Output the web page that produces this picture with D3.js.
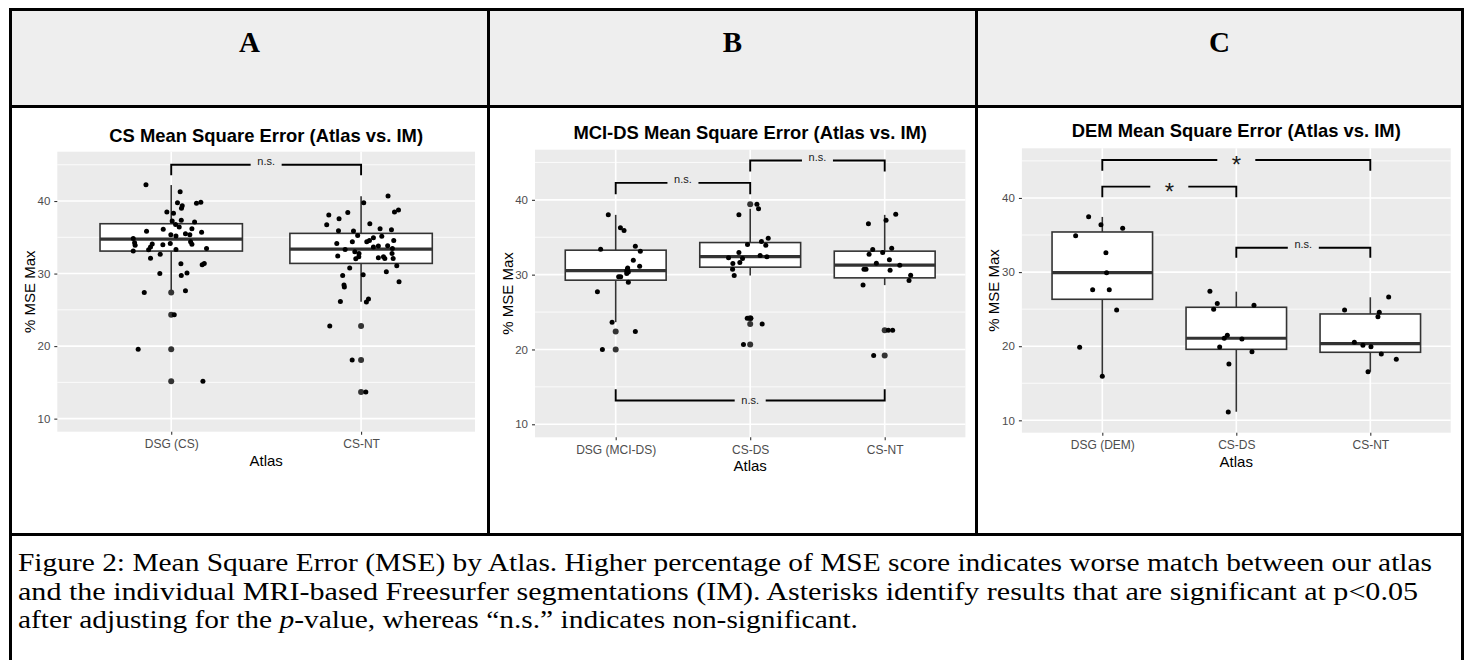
<!DOCTYPE html>
<html>
<head>
<meta charset="utf-8">
<script src="https://cdn.jsdelivr.net/npm/d3@7"></script>
<style>
  body { margin: 0; background: #fff; }
</style>
</head>
<body>
<div id="chart"></div>
<script>
// ---- values ----
const panelLetters = ["A", "B", "C"];
const plotTitles = [
  "CS Mean Square Error (Atlas vs. IM)",
  "MCI-DS Mean Square Error (Atlas vs. IM)",
  "DEM Mean Square Error (Atlas vs. IM)"
];
const yTicks = [10, 20, 30, 40];
const yDomains = [[8.2, 46.8], [8.26, 46.7], [8.33, 46.7]];

// boxes: [lower whisker, Q1, median, Q3, upper whisker]
// points: [jitter offset in category units, value]
// brackets: [from, to, bar value, tip value, label]
const csAtlases = ["DSG (CS)", "CS-NT"];
const csBoxes = [[27.6, 33.1, 34.76, 36.87, 42.2], [26.1, 31.4, 33.38, 35.54, 40.65]];
const csOutliers = [[27.4, 24.32, 19.55, 15.17], [22.76, 18.07, 13.66]];
const csPoints = [
  [[-0.133, 42.25], [0.047, 41.28], [0.033, 39.77], [0.058, 39.35], [0.054, 38.99], [-0.023, 38.48],
   [0.012, 38.3], [0.133, 39.68], [0.156, 39.82], [0.053, 37.34], [0.005, 37.24], [0.123, 37.1],
   [0.023, 36.78], [0.042, 36.41], [-0.042, 36.1], [0.109, 36.18], [-0.13, 35.82], [0.16, 35.68],
   [-0.002, 35.35], [0.025, 35.17], [0.075, 35.49], [0.098, 35.35], [-0.2, 34.85], [-0.193, 34.25],
   [-0.19, 33.89], [-0.2, 33.1], [-0.1, 34.07], [-0.109, 33.66], [-0.119, 33.28], [-0.044, 33.97],
   [-0.005, 34.16], [0.102, 34.39], [0.109, 34.03], [0.025, 33.33], [0.186, 33.47], [-0.109, 32.1],
   [-0.058, 32.65], [0.051, 31.35], [0.163, 31.22], [0.174, 31.4], [-0.06, 30.0], [0.083, 30.07],
   [0.053, 29.75], [-0.142, 27.4], [0.075, 27.63], [0.016, 24.32], [-0.174, 19.55], [0.167, 15.17]],
  [[0.142, 40.69], [0.014, 39.77], [0.197, 38.76], [0.176, 38.48], [-0.17, 38.07], [-0.07, 38.43],
   [-0.116, 37.56], [-0.181, 36.73], [0.046, 36.87], [-0.119, 35.91], [-0.04, 35.86], [0.1, 36.18],
   [0.16, 36.04], [-0.018, 35.26], [0.065, 34.94], [0.109, 35.13], [0.044, 34.57], [0.03, 34.39],
   [-0.046, 34.39], [-0.128, 34.16], [0.172, 34.57], [-0.084, 33.33], [-0.033, 33.01], [-0.011, 32.78],
   [-0.012, 32.32], [-0.123, 32.41], [0.091, 32.18], [0.118, 32.32], [0.125, 32.09], [0.163, 32.78],
   [0.14, 33.84], [0.165, 33.47], [0.169, 32.09], [0.188, 31.08], [0.065, 33.66], [0.091, 33.79],
   [-0.028, 32.04], [-0.06, 30.76], [0.133, 30.25], [0.011, 29.84], [-0.097, 29.75], [0.2, 28.87],
   [-0.09, 28.41], [-0.088, 28.14], [-0.109, 26.16], [0.039, 26.48], [0.028, 26.07], [-0.165, 22.76],
   [-0.047, 18.07], [0.025, 13.66]]
];
const csBrackets = [[0, 1, 45.0, 43.55, "n.s."]];

const mciAtlases = ["DSG (MCI-DS)", "CS-DS", "CS-NT"];
const mciBoxes = [[23.65, 29.26, 30.55, 33.27, 37.99], [29.9, 31.0, 32.42, 34.29, 38.8], [28.6, 29.57, 31.27, 33.14, 37.99]];
const mciOutliers = [[22.39, 19.99], [39.42, 24.18, 23.42, 20.66], [22.58, 19.19]];
const mciPoints = [
  [[-0.055, 37.99], [0.035, 36.26], [0.062, 35.9], [-0.112, 33.4], [0.146, 33.81], [0.183, 33.14],
   [0.131, 31.94], [0.178, 31.13], [0.089, 30.9], [0.087, 30.73], [0.082, 30.5], [0.094, 30.37],
   [0.082, 30.15], [0.022, 29.71], [0.037, 29.71], [0.094, 29.0], [-0.136, 27.7], [-0.027, 23.65],
   [0.146, 22.39], [-0.099, 19.99]],
  [[0.05, 39.42], [0.062, 38.8], [-0.084, 37.99], [-0.02, 34.03], [0.084, 34.43], [0.134, 34.87],
   [0.116, 33.94], [-0.084, 32.96], [-0.161, 32.25], [-0.057, 32.15], [0.074, 32.55], [0.124, 32.38],
   [-0.129, 31.49], [-0.077, 31.62], [-0.131, 30.73], [-0.119, 29.88], [-0.022, 24.18], [0.005, 24.18],
   [0.089, 23.42], [-0.05, 20.66]],
  [[0.082, 38.08], [0.01, 37.28], [-0.121, 36.79], [-0.089, 33.36], [-0.116, 32.74], [-0.015, 32.96],
   [0.052, 33.53], [0.035, 31.98], [-0.062, 31.53], [0.112, 31.27], [-0.154, 30.73], [-0.139, 30.73],
   [0.04, 30.6], [0.193, 29.93], [0.181, 29.21], [-0.161, 28.6], [0.027, 22.58], [0.059, 22.58],
   [-0.082, 19.19]]
];
const mciBrackets = [[0, 1, 42.27, 40.76, "n.s."], [1, 2, 45.26, 43.79, "n.s."], [0, 2, 13.17, 14.69, "n.s."]];

const demAtlases = ["DSG (DEM)", "CS-DS", "CS-NT"];
const demBoxes = [[15.94, 26.33, 29.92, 35.41, 37.44], [11.16, 19.58, 21.07, 25.25, 27.36], [16.56, 19.18, 20.34, 24.35, 26.6]];
const demOutliers = [[], [], []];
const demPoints = [
  [[-0.102, 37.48], [-0.01, 36.4], [0.152, 35.91], [-0.199, 34.91], [0.027, 32.62], [0.032, 29.92],
   [-0.072, 27.63], [0.052, 27.63], [0.107, 24.9], [-0.169, 19.85], [0.0, 15.94]],
  [[-0.197, 27.41], [-0.142, 25.77], [-0.169, 24.98], [0.132, 25.52], [-0.067, 21.47], [-0.09, 21.07],
   [0.042, 20.97], [-0.124, 19.89], [0.117, 19.26], [-0.055, 17.6], [-0.06, 11.12]],
  [[0.137, 26.64], [-0.192, 24.89], [0.067, 24.57], [0.057, 23.98], [-0.119, 20.52], [-0.055, 20.12],
   [0.005, 19.94], [0.082, 18.95], [0.194, 18.23], [-0.017, 16.56]]
];
const demBrackets = [[0, 2, 45.13, 43.68, "*"], [0, 1, 41.53, 40.1, "*"], [1, 2, 33.29, 31.94, "n.s."]];

const captionLines = [
  [["Figure 2: Mean Square Error (MSE) by Atlas. Higher percentage of MSE score indicates worse match between our atlas", false]],
  [["and the individual MRI-based Freesurfer segmentations (IM). Asterisks identify results that are significant at p<0.05", false]],
  [["after adjusting for the ", false], ["p", true], ["-value, whereas \u201cn.s.\u201d indicates non-significant.", false]]
];

// ---- layout ----
const W = 1465, H = 660;
const SANS = "'Liberation Sans', Arial, sans-serif";
const SERIF = "'Liberation Serif', 'Times New Roman', serif";
const panelBg = "#ebebeb";
const captionWidths = [1414, 1400, 840]; // the figure's caption is set wide

const panels = [
  { left: 57.3, right: 475, top: 151.7, bottom: 431.7, titleY: 142,
    cats: csAtlases, boxes: csBoxes, outliers: csOutliers, points: csPoints, brackets: csBrackets },
  { left: 535, right: 965.4, top: 149.7, bottom: 437.3, titleY: 139,
    cats: mciAtlases, boxes: mciBoxes, outliers: mciOutliers, points: mciPoints, brackets: mciBrackets },
  { left: 1021.9, right: 1450.7, top: 148.3, bottom: 432.7, titleY: 136.5,
    cats: demAtlases, boxes: demBoxes, outliers: demOutliers, points: demPoints, brackets: demBrackets }
];

const svg = d3.select("#chart").append("svg")
  .attr("width", W).attr("height", H)
  .style("display", "block");

// table frame
svg.append("rect").attr("x", 12).attr("y", 11).attr("width", 1449).attr("height", 94).attr("fill", "#eeeeee");

const frame = svg.append("g").attr("stroke", "#000").attr("stroke-width", 3);
frame.append("line").attr("x1", 9).attr("x2", 1464).attr("y1", 9.5).attr("y2", 9.5);
frame.append("line").attr("x1", 9).attr("x2", 1464).attr("y1", 106.5).attr("y2", 106.5);
frame.append("line").attr("x1", 9).attr("x2", 1464).attr("y1", 534.5).attr("y2", 534.5);
frame.append("line").attr("x1", 10.5).attr("x2", 10.5).attr("y1", 8).attr("y2", H);
frame.append("line").attr("x1", 1462.5).attr("x2", 1462.5).attr("y1", 8).attr("y2", H);
frame.append("line").attr("x1", 488.5).attr("x2", 488.5).attr("y1", 8).attr("y2", 536);
frame.append("line").attr("x1", 976.5).attr("x2", 976.5).attr("y1", 8).attr("y2", 536);

const colCenters = [249.5, 732.5, 1219.5];
svg.selectAll(".letter")
  .data(panelLetters)
  .enter()
  .append("text")
  .attr("x", (d, i) => colCenters[i])
  .attr("y", 52)
  .attr("text-anchor", "middle")
  .style("font", `bold 29px ${SERIF}`)
  .text(d => d);

// caption
const cap = svg.append("g");
captionLines.forEach((parts, i) => {
  const t = cap.append("text")
    .attr("x", 18)
    .attr("y", 571 + i * 28.7)
    .attr("textLength", captionWidths[i])
    .attr("lengthAdjust", "spacingAndGlyphs")
    .style("font", `25px ${SERIF}`)
    .attr("fill", "#000");
  parts.forEach(([s, it]) => {
    t.append("tspan").style("font-style", it ? "italic" : "normal").text(s);
  });
});

function drawPanel(p, idx) {
  const g = svg.append("g");
  const x = d3.scalePoint().domain(p.cats).range([p.left, p.right]).padding(0.6);
  const y = d3.scaleLinear().domain(yDomains[idx]).range([p.bottom, p.top]);
  const step = x.step();
  const dom = yDomains[idx];

  g.append("rect")
    .attr("x", p.left).attr("y", p.top)
    .attr("width", p.right - p.left).attr("height", p.bottom - p.top)
    .attr("fill", panelBg);

  // grid
  const minor = yTicks.map(t => t + 5).filter(v => v > dom[0] && v < dom[1]);
  g.selectAll(".minor").data(minor).enter().append("line")
    .attr("x1", p.left).attr("x2", p.right)
    .attr("y1", d => y(d)).attr("y2", d => y(d))
    .attr("stroke", "#fff").attr("stroke-width", 0.8);
  g.selectAll(".major").data(yTicks).enter().append("line")
    .attr("x1", p.left).attr("x2", p.right)
    .attr("y1", d => y(d)).attr("y2", d => y(d))
    .attr("stroke", "#fff").attr("stroke-width", 1.6);
  g.selectAll(".vgrid").data(p.cats).enter().append("line")
    .attr("x1", d => x(d)).attr("x2", d => x(d))
    .attr("y1", p.top).attr("y2", p.bottom)
    .attr("stroke", "#fff").attr("stroke-width", 1.6);

  // axes
  const ya = g.append("g")
    .attr("transform", `translate(${p.left},0)`)
    .call(d3.axisLeft(y).tickValues(yTicks).tickSize(3).tickPadding(4));
  ya.select(".domain").remove();
  ya.selectAll("line").attr("stroke", "#333").attr("stroke-width", 1.1);
  ya.selectAll("text").attr("fill", "#4d4d4d").style("font", `11.5px ${SANS}`);

  const xa = g.append("g")
    .attr("transform", `translate(0,${p.bottom})`)
    .call(d3.axisBottom(x).tickSize(3).tickPadding(5));
  xa.select(".domain").remove();
  xa.selectAll("line").attr("stroke", "#333").attr("stroke-width", 1.1);
  xa.selectAll("text").attr("fill", "#4d4d4d").style("font", `12px ${SANS}`);

  g.append("text")
    .attr("x", (p.left + p.right) / 2).attr("y", p.bottom + 34)
    .attr("text-anchor", "middle")
    .style("font", `15px ${SANS}`)
    .text("Atlas");
  g.append("text")
    .attr("transform", `translate(${p.left - 22.5},${(p.top + p.bottom) / 2}) rotate(-90)`)
    .attr("text-anchor", "middle")
    .style("font", `15px ${SANS}`)
    .text("% MSE Max");
  g.append("text")
    .attr("x", (p.left + p.right) / 2).attr("y", p.titleY)
    .attr("text-anchor", "middle")
    .style("font", `bold 18.4px ${SANS}`)
    .text(plotTitles[idx]);

  // boxplots
  const bw = 0.75 * step;
  p.cats.forEach((c, i) => {
    const [lo, q1, med, q3, hi] = p.boxes[i];
    const cx = x(c);
    g.append("line").attr("x1", cx).attr("x2", cx).attr("y1", y(lo)).attr("y2", y(q1))
      .attr("stroke", "#333").attr("stroke-width", 1.6);
    g.append("line").attr("x1", cx).attr("x2", cx).attr("y1", y(q3)).attr("y2", y(hi))
      .attr("stroke", "#333").attr("stroke-width", 1.6);
    g.append("rect")
      .attr("x", cx - bw / 2).attr("y", y(q3))
      .attr("width", bw).attr("height", y(q1) - y(q3))
      .attr("fill", "#fff").attr("stroke", "#333").attr("stroke-width", 1.6);
    g.append("line").attr("x1", cx - bw / 2).attr("x2", cx + bw / 2)
      .attr("y1", y(med)).attr("y2", y(med))
      .attr("stroke", "#333").attr("stroke-width", 3.2);
    g.selectAll(null).data(p.outliers[i]).enter().append("circle")
      .attr("cx", cx).attr("cy", d => y(d)).attr("r", 3)
      .attr("fill", "#333");
    g.selectAll(null).data(p.points[i]).enter().append("circle")
      .attr("cx", d => cx + d[0] * step).attr("cy", d => y(d[1])).attr("r", 2.5)
      .attr("fill", "#000");
  });

  // significance brackets
  p.brackets.forEach(([a, b, bar, tip, label]) => {
    const x1 = x(p.cats[a]), x2 = x(p.cats[b]);
    g.append("path")
      .attr("d", `M${x1},${y(tip)}V${y(bar)}H${x2}V${y(tip)}`)
      .attr("fill", "none").attr("stroke", "#000").attr("stroke-width", 1.9);
    const mx = (x1 + x2) / 2;
    const gap = label === "*" ? 38 : 31;
    g.append("rect")
      .attr("x", mx - gap / 2).attr("y", y(bar) - 2.5)
      .attr("width", gap).attr("height", 5)
      .attr("fill", panelBg);
    const star = label === "*";
    const base = star ? y(bar) + 13.5 : (tip > bar ? y(bar) + 3.5 : y(bar) + 0.5);
    g.append("text")
      .attr("x", mx).attr("y", base)
      .attr("text-anchor", "middle")
      .attr("fill", "#1a1a1a")
      .style("font", star ? `24px ${SANS}` : `11px ${SANS}`)
      .text(label);
  });
}

panels.forEach((p, i) => drawPanel(p, i));
</script>
</body>
</html>
